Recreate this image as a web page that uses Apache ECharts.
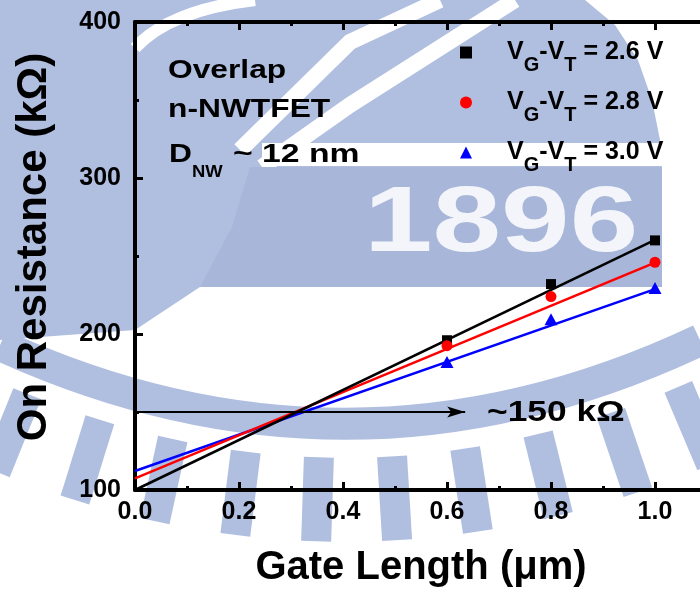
<!DOCTYPE html>
<html>
<head>
<meta charset="utf-8">
<script src="https://cdn.jsdelivr.net/npm/echarts@6/dist/echarts.min.js"></script>
<style>
  html, body { margin: 0; padding: 0; background: #fff; }
  #chart { width: 700px; height: 597px; }
</style>
</head>
<body>
<div id="chart"></div>
<script>
// Measured on-resistance (kOhm) versus gate length (um)
const gateLength = [0.6, 0.8, 1.0];
const rOn26 = [196, 232, 260];
const rOn28 = [192.5, 224, 246];
const rOn30 = [182, 209.5, 229.5];

// Linear fits, evaluated at the ends of the fitted range
const fitX = [0, 1.0];
const fit26 = [100, 260.3];
const fit28 = [107.5, 245.7];
const fit30 = [112.2, 228.8];

// Extrapolated crossing level
const crossLevel = 150;
const arrowX = [0, 0.635];

const seriesNames = ['2.6', '2.8', '3.0'];
const seriesColors = ['#000000', '#ff0000', '#0000ff'];

const xRange = { min: 0, max: 1.1, interval: 0.2 };
const yRange = { min: 100, max: 400, interval: 100 };

const FONT = '"Liberation Sans", Arial, Helvetica, sans-serif';
const MARK_BLUE = '#b0bfe0';
const MARK_BANNER = '#a8b7d9';

function pairs(xs, ys) { return xs.map((x, i) => [x, ys[i]]); }

const chart = echarts.init(document.getElementById('chart'), null, { renderer: 'canvas' });

const axisCommon = {
  type: 'value',
  axisLine: { show: true, onZero: false, lineStyle: { color: '#000', width: 4 } },
  axisTick: { show: true, inside: true, length: 8, lineStyle: { color: '#000', width: 3 } },
  minorTick: { show: true, splitNumber: 2, length: 4, lineStyle: { color: '#000', width: 3 } },
  splitLine: { show: false },
  minorSplitLine: { show: false }
};

const fitSeries = [fit26, fit28, fit30].map((f, i) => ({
  name: 'fit ' + seriesNames[i],
  type: 'line',
  data: pairs(fitX, f),
  showSymbol: false,
  symbol: 'none',
  lineStyle: { color: seriesColors[i], width: 2.5, opacity: 1 },
  z: 3 - i,
  silent: true
}));

const symbols = ['rect', 'circle', 'triangle'];
const symbolSizes = [10, 11, [13, 12]];
const pointSeries = [rOn26, rOn28, rOn30].map((v, i) => ({
  name: seriesNames[i],
  type: 'scatter',
  data: pairs(gateLength, v),
  symbol: symbols[i],
  symbolSize: symbolSizes[i],
  itemStyle: { color: seriesColors[i], opacity: 1 },
  z: 5
}));

const arrowSeries = {
  name: 'crossing',
  type: 'line',
  data: [
    { value: [arrowX[0], crossLevel], symbol: 'none' },
    { value: [arrowX[1], crossLevel], symbol: 'path://M0,0 L18,5.5 L0,11 L4,5.5 Z', symbolSize: [18, 11], symbolOffset: ['-50%', 0] }
  ],
  showSymbol: true,
  lineStyle: { color: '#000', width: 2 },
  itemStyle: { color: '#000', opacity: 1 },
  z: 4,
  silent: true
};

function legendLabel(name) {
  return '{m|V}{s|G}{m|-V}{s|T}{m| = ' + name + ' V}';
}

// ---- faint university emblem in the page background ----
const ring = { x1: 0, y1: 345, cpx: 350, cpy: 505, x2: 700, y2: 340 };
const toothX = [40, 110, 180, 250, 320, 390, 460, 530, 600, 665];
function toothAt(x) {
  const t = x / 700;
  const y = (1 - t) * (1 - t) * ring.y1 + 2 * t * (1 - t) * ring.cpy + t * t * ring.y2;
  const dx = 700;
  const dy = 2 * (1 - t) * (ring.cpy - ring.y1) + 2 * t * (ring.y2 - ring.cpy);
  const len = Math.hypot(dx, dy);
  const nx = -dy / len, ny = dx / len;
  return {
    type: 'rect', z: -10, silent: true,
    x: x + 76 * nx, y: y + 76 * ny,
    rotation: -Math.atan2(dy, dx),
    shape: { x: -15, y: -42, width: 30, height: 84 },
    style: { fill: MARK_BLUE }
  };
}

const emblem = [
  { type: 'polygon', z: -10, silent: true,
    shape: { points: [[0, 0], [585, 0], [615, 25], [638, 60], [652, 100], [660, 140], [662, 170], [662, 287], [200, 287], [135, 330], [0, 340]] },
    style: { fill: MARK_BLUE } },
  { type: 'polyline', z: -9, silent: true,
    shape: { points: [[440, 0], [350, 42], [240, 150]] },
    style: { stroke: '#ffffff', lineWidth: 16, fill: null } },
  { type: 'polyline', z: -9, silent: true,
    shape: { points: [[515, 0], [350, 105], [262, 167]] },
    style: { stroke: '#ffffff', lineWidth: 16, fill: null } },
  { type: 'bezierCurve', z: -9, silent: true,
    shape: { x1: 135, y1: 48, cpx1: 170, cpy1: 10, x2: 255, y2: 0 },
    style: { stroke: '#ffffff', lineWidth: 12, fill: null } },
  { type: 'rect', z: -9, silent: true,
    shape: { x: 262, y: 143, width: 400, height: 23 },
    style: { fill: '#ffffff' } },
  { type: 'polygon', z: -8, silent: true,
    shape: { points: [[250, 167], [662, 167], [662, 287], [200, 287], [232, 227]] },
    style: { fill: MARK_BANNER } },
  { type: 'text', z: -7, silent: true, x: 364, y: 226, scaleX: 1.34,
    style: { text: '1896', fontFamily: FONT, fontWeight: 'bold', fontSize: 92, fill: '#f3f5fa', verticalAlign: 'middle', align: 'left' } },
  { type: 'bezierCurve', z: -10, silent: true,
    shape: { x1: ring.x1, y1: ring.y1, cpx1: ring.cpx, cpy1: ring.cpy, x2: ring.x2, y2: ring.y2 },
    style: { stroke: MARK_BLUE, lineWidth: 32, fill: null } }
].concat(toothX.map(toothAt));

const textBase = { fontFamily: FONT, fontWeight: 'bold', fill: '#000' };

const annotations = [
  { type: 'text', x: 168, y: 71, scaleX: 1.27, z: 10,
    style: Object.assign({ text: 'Overlap', fontSize: 25, verticalAlign: 'middle', align: 'left' }, textBase) },
  { type: 'text', x: 168, y: 110, scaleX: 1.27, z: 10,
    style: Object.assign({ text: 'n-NWTFET', fontSize: 25, verticalAlign: 'middle', align: 'left' }, textBase) },
  { type: 'text', x: 169, y: 155, scaleX: 1.27, z: 10,
    style: Object.assign({ text: 'D', fontSize: 25, verticalAlign: 'middle', align: 'left' }, textBase) },
  { type: 'text', x: 192, y: 172.5, scaleX: 1.15, z: 10,
    style: Object.assign({ text: 'NW', fontSize: 16, verticalAlign: 'middle', align: 'left' }, textBase) },
  { type: 'text', x: 233, y: 155, scaleX: 1.35, z: 10,
    style: Object.assign({ text: '~ 12 nm', fontSize: 25, verticalAlign: 'middle', align: 'left' }, textBase) },
  { type: 'text', x: 487, y: 413, scaleX: 1.22, z: 10,
    style: Object.assign({ text: '~150 k\u03a9', fontSize: 29, verticalAlign: 'middle', align: 'left' }, textBase) }
];

chart.setOption({
  animation: false,
  backgroundColor: '#ffffff',
  textStyle: { fontFamily: FONT },
  grid: { left: 135, top: 22, right: -7, bottom: 107, outerBoundsMode: 'none' },
  xAxis: [
    Object.assign({}, axisCommon, {
      position: 'bottom',
      min: xRange.min, max: xRange.max, interval: xRange.interval,
      name: 'Gate Length (\u03bcm)',
      nameLocation: 'middle',
      nameGap: 58,
      nameTextStyle: { fontFamily: FONT, fontWeight: 'bold', fontSize: 40, color: '#000' },
      axisLabel: {
        show: true, margin: 10, showMaxLabel: false,
        fontFamily: FONT, fontWeight: 'bold', fontSize: 25, color: '#000',
        formatter: v => v.toFixed(1)
      }
    }),
    Object.assign({}, axisCommon, {
      position: 'top',
      min: xRange.min, max: xRange.max, interval: xRange.interval,
      axisLabel: { show: false }
    })
  ],
  yAxis: [
    Object.assign({}, axisCommon, {
      position: 'left',
      min: yRange.min, max: yRange.max, interval: yRange.interval,
      name: 'On Resistance (k\u03a9)',
      nameLocation: 'middle',
      nameRotate: 90,
      nameGap: 80,
      nameTextStyle: { fontFamily: FONT, fontWeight: 'bold', fontSize: 42, color: '#000', padding: [0, 0, 0, 18] },
      axisLabel: {
        show: true, margin: 14,
        fontFamily: FONT, fontWeight: 'bold', fontSize: 25, color: '#000'
      }
    })
  ],
  legend: {
    show: true,
    orient: 'vertical',
    left: 460,
    top: 30,
    padding: 0,
    itemGap: 5,
    itemWidth: 12,
    itemHeight: 12,
    selectedMode: false,
    data: [
      { name: seriesNames[0], icon: 'rect' },
      { name: seriesNames[1], icon: 'circle' },
      { name: seriesNames[2], icon: 'triangle' }
    ],
    formatter: legendLabel,
    textStyle: {
      color: '#000',
      padding: [0, 0, 0, 30],
      rich: {
        m: { fontFamily: FONT, fontWeight: 'bold', fontSize: 25, lineHeight: 25, color: '#000' },
        s: { fontFamily: FONT, fontWeight: 'bold', fontSize: 20, lineHeight: 20, color: '#000', padding: [25, 0, 0, 0] }
      }
    }
  },
  graphic: emblem.concat(annotations),
  series: [].concat(fitSeries, [arrowSeries], pointSeries)
});
</script>
</body>
</html>
